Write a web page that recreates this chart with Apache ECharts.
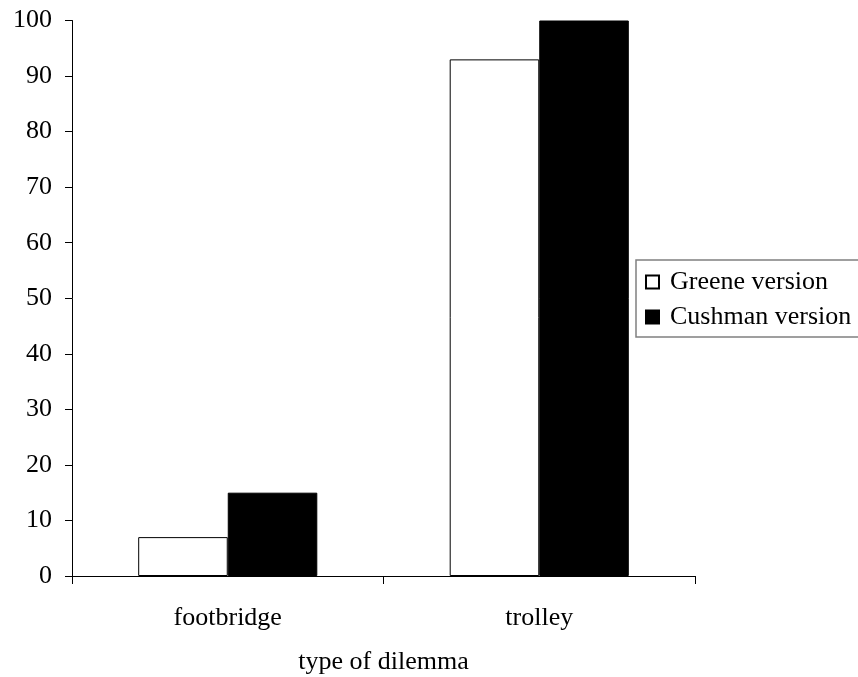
<!DOCTYPE html>
<html>
<head>
<meta charset="utf-8">
<script src="https://cdn.jsdelivr.net/npm/echarts@6/dist/echarts.min.js"></script>
<style>
  html, body { margin: 0; padding: 0; background: #fff; }
  #chart { width: 858px; height: 677px; }
</style>
</head>
<body>
<div id="chart"></div>
<script>
// Dilemma categories and the two series of percentages
const categories = ['footbridge', 'trolley'];
const greeneValues = [7, 93];
const cushmanValues = [15, 100];
const seriesNames = ['Greene version', 'Cushman version'];
const yTicks = { min: 0, max: 100, interval: 10 };
const xAxisTitle = 'type of dilemma';

const FONT = '"Liberation Serif", "Times New Roman", serif';

const chart = echarts.init(document.getElementById('chart'), null, { renderer: 'canvas' });

chart.setOption({
  animation: false,
  backgroundColor: '#ffffff',
  textStyle: { fontFamily: FONT, color: '#000' },
  grid: {
    left: 72, right: 163, top: 20.5, bottom: 101,
    containLabel: false,
    outerBoundsMode: 'none'
  },
  legend: {
    orient: 'vertical',
    left: 636,
    top: 260,
    data: seriesNames,
    icon: 'rect',
    itemWidth: 13,
    itemHeight: 13,
    itemGap: 9,
    padding: [9, 14, 7, 9],
    borderColor: '#808080',
    borderWidth: 1.5,
    textStyle: { fontFamily: FONT, fontSize: 26, color: '#000', padding: [0, 0, 0, 6] }
  },
  xAxis: {
    type: 'category',
    data: categories,
    boundaryGap: true,
    name: xAxisTitle,
    nameLocation: 'middle',
    nameGap: 73,
    nameTextStyle: { fontFamily: FONT, fontSize: 26, color: '#000' },
    axisLine: { show: true, lineStyle: { color: '#000', width: 1 } },
    axisTick: { show: true, inside: false, length: 8, alignWithLabel: false, lineStyle: { color: '#000' } },
    axisLabel: { fontFamily: FONT, fontSize: 26, color: '#000', margin: 29 },
    splitLine: { show: false }
  },
  yAxis: {
    type: 'value',
    min: yTicks.min,
    max: yTicks.max,
    interval: yTicks.interval,
    axisLine: { show: true, lineStyle: { color: '#000', width: 1 } },
    axisTick: { show: true, inside: false, length: 7, lineStyle: { color: '#000' } },
    axisLabel: { fontFamily: FONT, fontSize: 26, color: '#000', margin: 20 },
    splitLine: { show: false }
  },
  series: [
    {
      name: seriesNames[0],
      type: 'bar',
      data: greeneValues,
      barGap: '0%',
      barCategoryGap: '42.5%',
      itemStyle: { color: '#ffffff', borderColor: '#000', borderWidth: 1 }
    },
    {
      name: seriesNames[1],
      type: 'bar',
      data: cushmanValues,
      barGap: '0%',
      barCategoryGap: '42.5%',
      itemStyle: { color: '#000000', borderColor: '#000', borderWidth: 1 }
    }
  ]
});
</script>
</body>
</html>
